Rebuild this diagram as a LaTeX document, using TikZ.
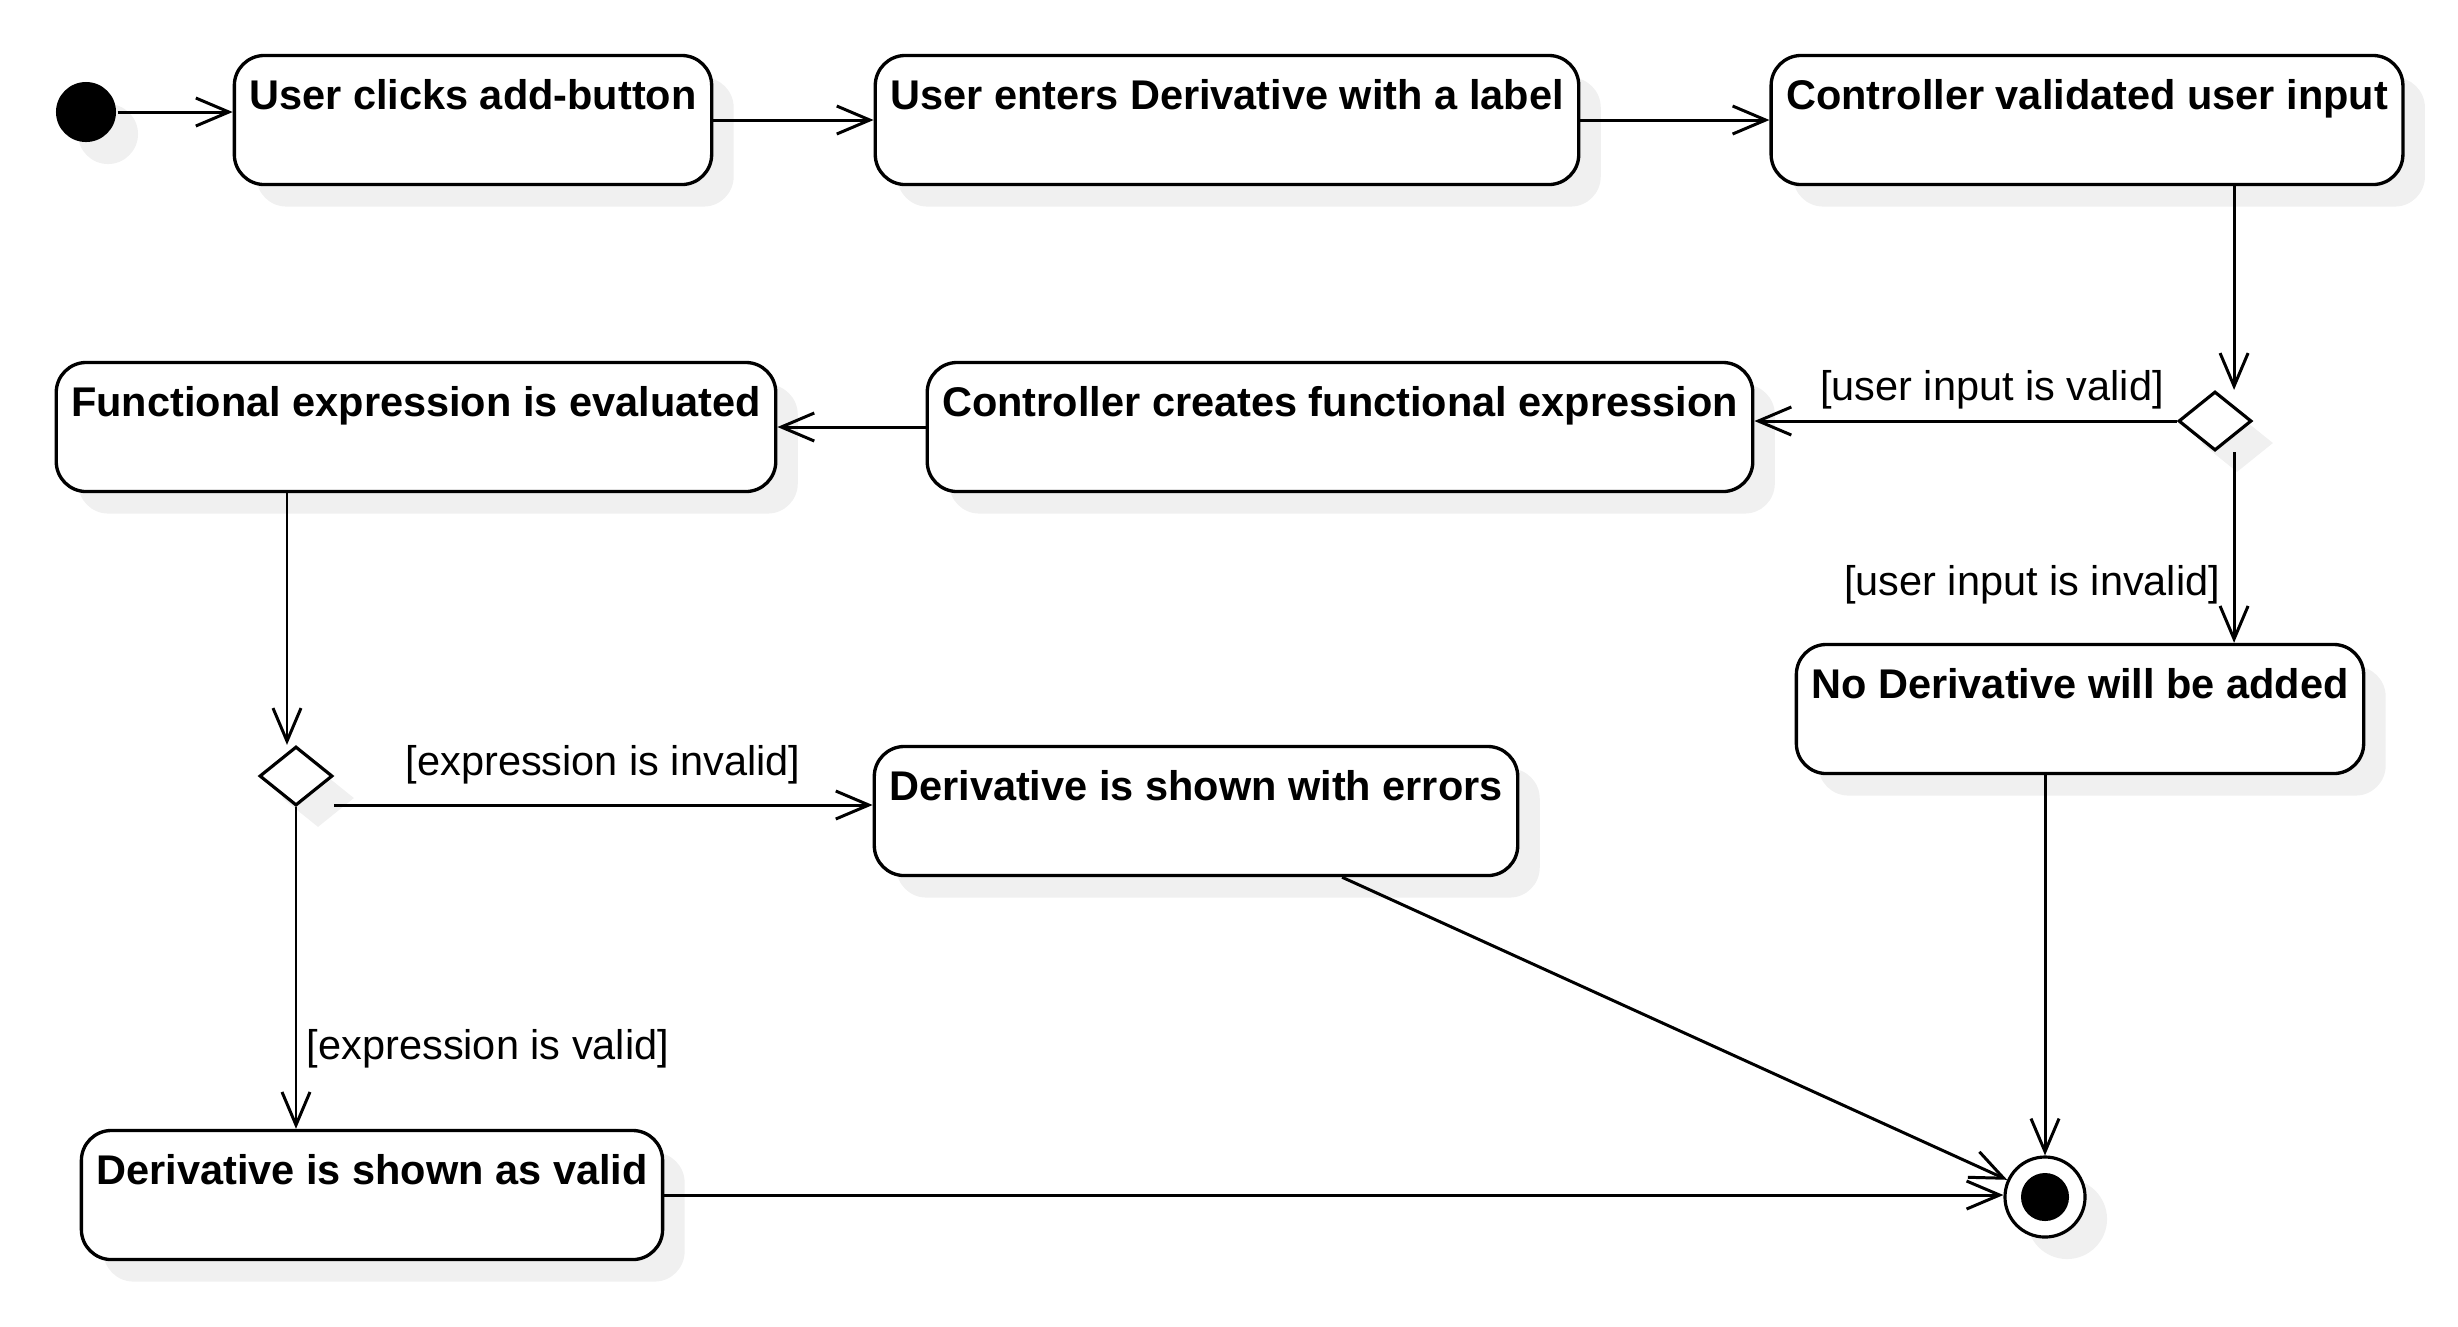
\documentclass[tikz,border=0pt]{standalone}
\usepackage{fontspec}
\setmainfont{Liberation Sans}
\usetikzlibrary{shapes.geometric,shadows,arrows.meta}
\usetikzlibrary{calc,positioning}

\tikzset{
  shade off/.style={drop shadow={shadow xshift=0.22cm,shadow yshift=-0.22cm,fill=black!6,opacity=1}},
  activity/.style={draw,line width=0.95pt,rounded corners=0.3cm,fill=white,shade off,
    font=\fontsize{11.8}{14}\selectfont\bfseries,inner xsep=0.15cm,inner ysep=0.25cm,
    text height=0.29cm,text depth=0.5cm},
  decision/.style={diamond,draw,line width=0.9pt,fill=white,shade off,inner sep=0pt,
    minimum width=0.73cm,minimum height=0.59cm},
  guard/.style={anchor=base,font=\fontsize{11.8}{14}\selectfont},
  initial/.style={circle,fill=black,inner sep=0pt,minimum size=0.6cm,shade off},
  final/.style={circle,draw,line width=0.9pt,fill=white,inner sep=0pt,minimum size=0.8cm,shade off}
}

\begin{document}
\begin{tikzpicture}[x=0.01cm,y=-0.01cm,line width=0.85pt,>={Straight Barb[length=3.3mm,width=2.8mm]}]
\useasboundingbox (0,0) rectangle (2458,1326);
% states
\node[initial] (start) at (86,112) {};
\node[activity] (click) at (473,120) {User clicks add-button};
\node[activity] (enter) at (1227,120) {User enters Derivative with a label};
\node[activity] (validate) at (2087,120) {Controller validated user input};
\node[decision] (check) at (2215,421) {};
\node[activity] (create) at (1340,427) {Controller creates functional expression};
\node[activity] (evaluate) at (416,427) {Functional expression is evaluated};
\node[activity] (noadd) at (2080,709) {No Derivative will be added};
\node[decision] (result) at (296,776) {};
\node[activity] (errors) at (1196,811) {Derivative is shown with errors};
\node[activity] (shown) at (372,1195) {Derivative is shown as valid};
\node[final] (stop) at (2045,1197) {};
\fill (stop) circle (0.24cm);
% guards
\node[guard] (gvalid) at (1992,400) {[user input is valid]};
\node[guard] (ginvalid) at (2032,595) {[user input is invalid]};
\node[guard] (gexinvalid) at (603,775) {[expression is invalid]};
\node[guard] (gexvalid) at (488,1059) {[expression is valid]};
% transitions
\draw[->] (start.east) -- (start.east -| click.west);
\draw[->] (click) -- (enter);
\draw[->] (enter) -- (validate);
\draw[->] (validate.south -| check.north east) -- (check.north -| check.north east);
\draw[->] (check.west) -- (check.west -| create.east);
\draw[->] (check.south -| check.south east) -- (noadd.north -| check.south east);
\draw[->] (create) -- (evaluate);
\draw[->] ([xshift=-0.09cm]result.north |- evaluate.south) -- ([xshift=-0.09cm]result.north);
\draw[->] ([yshift=0.06cm]result.east |- errors.west) -- ([yshift=0.06cm]errors.west);
\draw[->] (result.south) -- (result.south |- shown.north);
\draw[->] (shown.east) -- (shown.east -| stop.west);
\draw[->] ([xshift=1.46cm]errors.south) -- (stop);
\draw[->] (noadd.south -| stop.north) -- (stop.north);
\end{tikzpicture}
\end{document}
